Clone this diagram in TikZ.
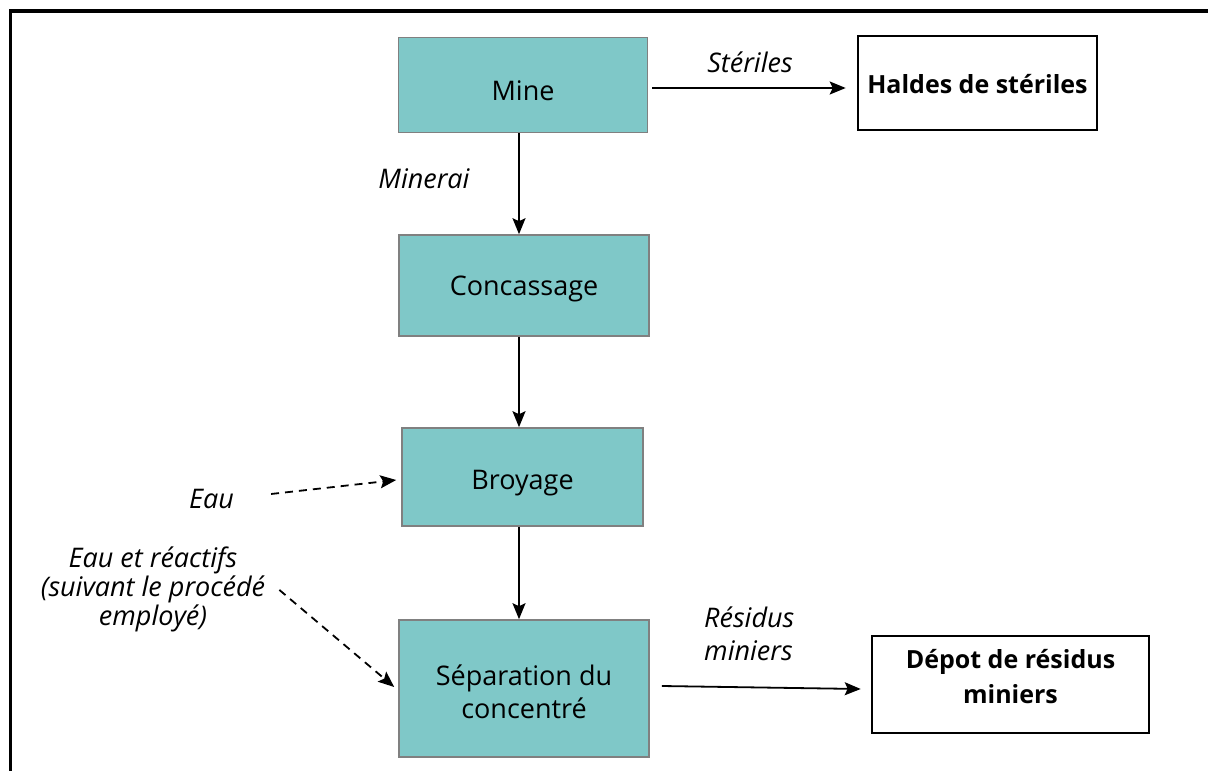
\documentclass[tikz,border=0pt]{standalone}
\usepackage{fontspec}
\setmainfont{Open Sans}
\usetikzlibrary{arrows.meta}
\definecolor{teal}{RGB}{127,200,200}
\definecolor{edgegray}{RGB}{128,128,128}
\newcommand\shiftdown[2]{\raisebox{-#1}[0pt][0pt]{#2}}
\tikzset{
  proc/.style={draw=edgegray, line width=1.6pt, fill=teal, rectangle, align=center,
    font=\fontsize{27}{33}\selectfont, inner sep=0pt},
  sink/.style={draw=black, line width=2.6pt, fill=white, rectangle, align=center,
    font=\fontsize{25}{35}\selectfont\bfseries, inner sep=0pt},
  lbl/.style={font=\fontsize{27}{33}\selectfont\itshape, inner sep=0pt, anchor=base},
  arr/.style={line width=1.8pt, -{Stealth[length=16pt,width=13pt,inset=3pt]}},
  darr/.style={arr, dash pattern=on 8pt off 6pt}
}
\begin{document}
\begin{tikzpicture}[x=1pt,y=-1pt]
\useasboundingbox (0,0) rectangle (1208,771);
\fill[white] (0,0) rectangle (1208,771);
\draw[line width=3.3pt] (10.5,790) -- (10.5,11) -- (1220,11);
\coordinate (axis) at (519,0);

\node[proc, minimum width=249pt, minimum height=95pt] (mine) at (523,85) {\shiftdown{15.6pt}{Mine}};
\node[proc, minimum width=250pt, minimum height=101pt] (conc) at (524,285.5) {\shiftdown{10pt}{Concassage}};
\node[proc, minimum width=241pt, minimum height=98pt] (broy) at (522.5,477) {\shiftdown{12pt}{Broyage}};
\node[proc, minimum width=250pt, minimum height=137pt] (sep) at (524,688.5) {\shiftdown{29.5pt}{\begin{tabular}[b]{@{}c@{}}Séparation du\\concentré\end{tabular}}};
\node[sink, minimum width=239pt, minimum height=94pt] (haldes) at (977.5,83) {\shiftdown{10pt}{Haldes de stériles}};
\node[sink, minimum width=277pt, minimum height=97pt] (depot) at (1010.5,684.5) {\shiftdown{18.5pt}{\begin{tabular}[b]{@{}c@{}}Dépot de résidus\\miniers\end{tabular}}};

\node[lbl] (steriles) at (750,72) {Stériles};
\node[lbl] (minerai) at (424,188) {Minerai};
\node[lbl] (eau) at (211.5,508) {Eau};
\node[lbl, font=\fontsize{27}{27}\selectfont\itshape] (eaureact) at (153,625) {\begin{tabular}[b]{@{}c@{}}Eau et réactifs\\(suivant le procédé\\employé)\end{tabular}};
\node[lbl, anchor=base west] (residus) at (704,660) {\begin{tabular}[b]{@{}l@{}}Résidus\\miniers\end{tabular}};

\draw[arr, shorten >=11pt] ([xshift=4pt,yshift=-3pt]mine.east) -- ([yshift=-3pt]mine.east -| haldes.west);
\draw[arr] (mine.south -| axis) -- (conc.north -| axis);
\draw[arr] (conc.south -| axis) -- (broy.north -| axis);
\draw[arr] (broy.south -| axis) -- (sep.north -| axis);
\draw[darr] ([xshift=37pt,yshift=4.5pt]eau.east) -- ([xshift=-5pt,yshift=-3pt]broy.west);
\draw[darr] ([xshift=14pt]eaureact.east) -- ([xshift=-4pt,yshift=1.5pt]sep.west);
\draw[arr] ([xshift=12pt,yshift=2.5pt]sep.east) -- ([xshift=-10pt,yshift=-4.5pt]depot.west);
\end{tikzpicture}
\end{document}
